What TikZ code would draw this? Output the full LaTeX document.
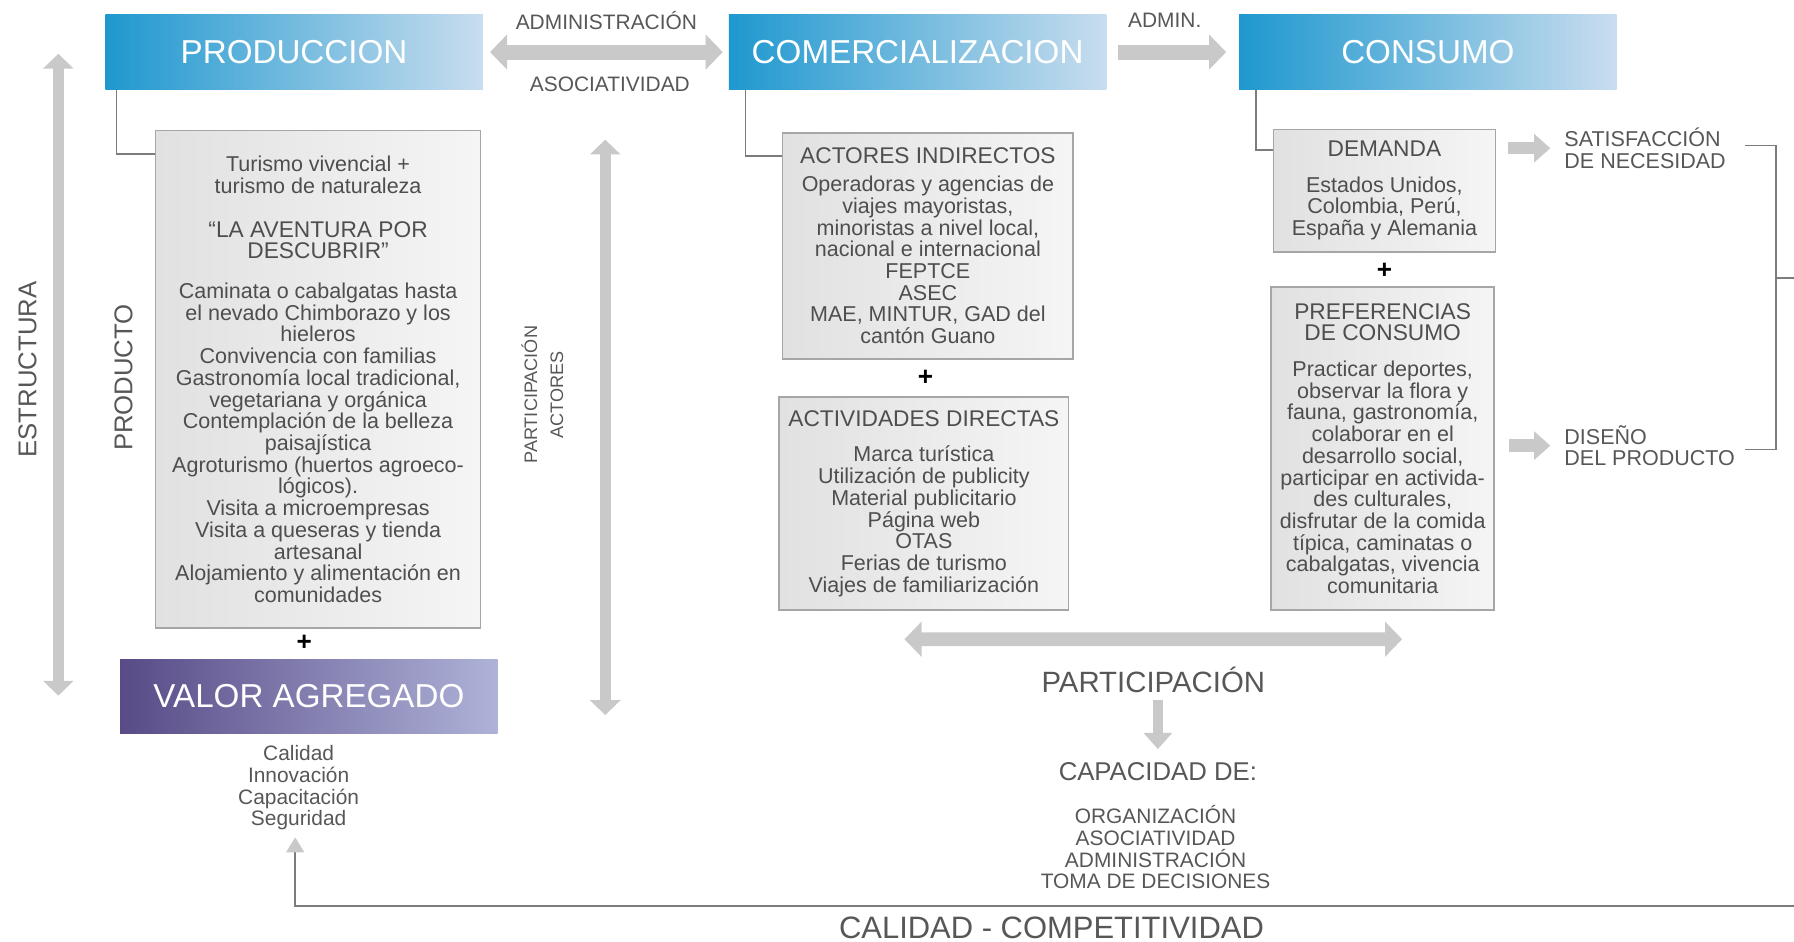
\documentclass[tikz,border=0pt]{standalone}
\usepackage{fontspec}
\setmainfont{Liberation Sans}
\usetikzlibrary{calc,arrows.meta}
\definecolor{hdblue}{HTML}{1E98CF}
\definecolor{hdmid}{HTML}{45A9D8}
\definecolor{hdlight}{HTML}{C9DDEE}
\definecolor{vadark}{HTML}{584B87}
\definecolor{vamid}{HTML}{6F6A9F}
\definecolor{valight}{HTML}{AEB2D8}
\definecolor{boxdark}{HTML}{E1E1E1}
\definecolor{boxlight}{HTML}{F5F5F5}
\definecolor{boxline}{HTML}{A6A6A6}
\definecolor{boxtext}{HTML}{4E4E4E}
\definecolor{lblgray}{HTML}{575757}
\definecolor{arrowgray}{HTML}{C9C9C9}
\definecolor{linegray}{HTML}{7C7C7C}
\newcommand{\boxsize}{\fontsize{10.7}{10.8}\selectfont}
\newcommand{\titsize}{\fontsize{11.3}{11.4}\selectfont}
\tikzset{
  bigtip/.tip={Triangle[width=17pt,length=8.5pt]},
  vtip/.tip={Triangle[width=14.8pt,length=7.4pt]},
  stip/.tip={Triangle[width=13.7pt,length=8pt]},
  header/.style={minimum width=6.6cm,minimum height=1.3cm,inner sep=0pt,text=white,
    font=\fontsize{16.5}{18}\selectfont,left color=hdblue,middle color=hdmid,right color=hdlight},
  valor/.style={header,left color=vadark,middle color=vamid,right color=valight},
  box/.style={draw=boxline,line width=0.8pt,left color=boxdark,right color=boxlight,
    text=boxtext,align=center,inner sep=0pt,font=\boxsize},
  lbl/.style={inner sep=0pt,text=lblgray,align=center,font=\fontsize{10.4}{10.8}\selectfont},
  sidelbl/.style={inner sep=0pt,text=lblgray,align=left,font=\boxsize},
  plus/.style={inner sep=0pt,font=\fontsize{13}{13}\selectfont\bfseries},
  thinline/.style={draw=linegray,line width=0.8pt},
  hbar/.style={draw=arrowgray,line width=7.4pt},
  vbar/.style={draw=arrowgray,line width=5.7pt},
  sbar/.style={draw=arrowgray,line width=6.2pt},
}

\begin{document}
\begin{tikzpicture}[x=0.02cm,y=-0.02cm]
\useasboundingbox (0,0) rectangle (1568,823);
% cabeceras
\node[header] (prod) at (257,45.5) {PRODUCCION};
\node[header] (comer) at (802,45.5) {COMERCIALIZACION};
\node[header] (cons) at (1248,45.5) {CONSUMO};
\node[valor] (valor) at (270,608.5) {VALOR AGREGADO};

% cajas
\node[box,minimum width=5.68cm,minimum height=8.7cm] (prodbox) at (278,331.5)
  {Turismo vivencial +\\turismo de naturaleza\\[11pt]
   {\titsize “LA AVENTURA POR}\\{\titsize DESCUBRIR”}\\[9pt]
   Caminata o cabalgatas hasta\\el nevado Chimborazo y los\\hieleros\\
   Convivencia con familias\\Gastronomía local tradicional,\\vegetariana y orgánica\\
   Contemplación de la belleza\\paisajística\\Agroturismo (huertos agroeco-\\lógicos).\\
   Visita a microempresas\\Visita a queseras y tienda\\artesanal\\
   Alojamiento y alimentación en\\comunidades};
\node[box,minimum width=5.08cm,minimum height=3.96cm] (actind) at (811,215)
  {{\titsize ACTORES INDIRECTOS}\\[3pt]
   Operadoras y agencias de\\viajes mayoristas,\\minoristas a nivel local,\\
   nacional e internacional\\FEPTCE\\ASEC\\MAE, MINTUR, GAD del\\cantón Guano};
\node[box,minimum width=5.06cm,minimum height=3.72cm] (actdir) at (807.5,440)
  {{\titsize ACTIVIDADES DIRECTAS}\\[7pt]
   Marca turística\\Utilización de publicity\\Material publicitario\\Página web\\
   OTAS\\Ferias de turismo\\Viajes de familiarización};
\node[box,minimum width=3.88cm,minimum height=2.14cm] (dem) at (1210,166.5)
  {{\titsize DEMANDA}\\[7pt]
   Estados Unidos,\\Colombia, Perú,\\España y Alemania};
\node[box,minimum width=3.9cm,minimum height=5.64cm] (pref) at (1208.5,392)
  {{\titsize PREFERENCIAS}\\{\titsize DE CONSUMO}\\[7pt]
   Practicar deportes,\\observar la flora y\\fauna, gastronomía,\\colaborar en el\\
   desarrollo social,\\participar en activida-\\des culturales,\\disfrutar de la comida\\
   típica, caminatas o\\cabalgatas, vivencia\\comunitaria};

% uniones
\draw[thinline] ($(prod.south west)+(10,0)$) |- ($(prodbox.north west)+(0,21)$);
\draw[thinline] ($(comer.south west)+(15,0)$) |- ($(actind.north west)+(0,21)$);
\draw[thinline] ($(cons.south west)+(15,0)$) |- ($(dem.north west)+(0,19)$);

\node[plus] (p1) at (266,562) {+};
\node[plus] (p2) at (809,330) {+};
\node[plus] (p3) at (1210,237) {+};

% flechas superiores
\draw[hbar,bigtip-bigtip,shorten <=0.12cm,shorten >=0.1cm] (prod.east) -- (comer.west);
\draw[hbar,-bigtip,shorten <=0.2cm,shorten >=0.22cm] (comer.east) -- (cons.west);
\node[lbl] (adm1) at (530,18) {ADMINISTRACIÓN};
\node[lbl] (asoc) at (533,74) {ASOCIATIVIDAD};
\node[lbl] (adm2) at (1018,18) {ADMIN.};

% ejes verticales
\coordinate (estT) at (51,47);
\coordinate (estB) at (51,608);
\draw[vbar,vtip-vtip] (estT) -- (estB);
\node[lbl,rotate=90,font=\fontsize{12.8}{14}\selectfont] (estr) at (24,323) {ESTRUCTURA};
\node[lbl,rotate=90,font=\fontsize{12.8}{14}\selectfont] (prodlbl) at (108,330) {PRODUCTO};
\coordinate (actT) at (529,122);
\coordinate (actB) at (529,625);
\draw[vbar,vtip-vtip] (actT) -- (actB);
\node[lbl,rotate=90,font=\fontsize{9}{13}\selectfont] (pact) at (474,345) {PARTICIPACIÓN\\ACTORES};

% valor agregado
\node[lbl] (vlist) at (261,688.5) {Calidad\\Innovación\\Capacitación\\Seguridad};

% participacion
\draw[hbar,line width=6.8pt,bigtip-bigtip] ($(actdir.south)+(-17,25)$) -- ($(pref.south)+(17,25)$);
\node[lbl,font=\fontsize{14.6}{16}\selectfont] (part) at (1008,594) {PARTICIPACIÓN};
\node[lbl,font=\fontsize{12.8}{14}\selectfont] (capac) at (1012,674) {CAPACIDAD DE:};
\draw[vbar,line width=5.2pt,-stip,shorten <=0.12cm,shorten >=0.22cm] (part.south -| capac.north) -- (capac.north);
\node[lbl] (caplist) at (1010,740.5) {ORGANIZACIÓN\\ASOCIATIVIDAD\\ADMINISTRACIÓN\\TOMA DE DECISIONES};

% consumo a la derecha
\node[sidelbl,anchor=west] (satis) at (1367,129.5) {SATISFACCIÓN\\DE NECESIDAD};
\node[sidelbl,anchor=west] (dis) at (1367,389.5) {DISEÑO\\DEL PRODUCTO};
\draw[sbar,-stip,shorten <=0.2cm,shorten >=0.24cm] (dem.east |- satis.west) -- (satis.west);
\draw[sbar,-stip,shorten <=0.24cm,shorten >=0.24cm] (pref.east |- dis.west) -- (dis.west);
\coordinate (brA) at (1525,127);
\coordinate (brB) at (1525,393);
\coordinate (brM) at (1552,243);
\coordinate (edgeR) at (1568,243);
\draw[thinline] (brA) -| (brM) |- (brB);
\draw[thinline] (brM) -- (edgeR);

% retorno
\coordinate (retR) at (1568,792);
\draw[thinline,-{Triangle[width=9pt,length=7.5pt,color=arrowgray]}] (retR) -| ($(vlist.south)+(-3,6)$);
\node[lbl,font=\fontsize{15.4}{16}\selectfont] (calcomp) at (919,811) {CALIDAD - COMPETITIVIDAD};
\end{tikzpicture}
\end{document}
